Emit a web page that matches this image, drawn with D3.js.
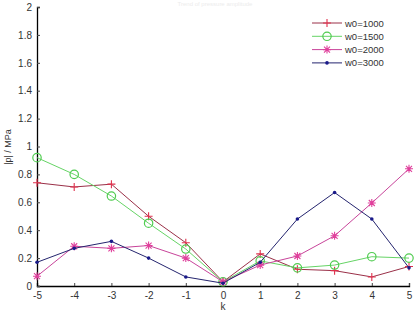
<!DOCTYPE html>
<html>
<head>
<meta charset="utf-8">
<script src="https://cdn.jsdelivr.net/npm/d3@7"></script>
<style>
body{margin:0;background:#fff;}
svg{display:block;}
text{font-family:"Liberation Sans",Arial,sans-serif;}
</style>
</head>
<body>
<div id="chart"></div>
<script>
var k = [-5,-4,-3,-2,-1,0,1,2,3,4,5];
var w1000 = [0.74,0.71,0.73,0.50,0.31,0.03,0.23,0.12,0.11,0.065,0.14];
var w1500 = [0.92,0.80,0.645,0.45,0.265,0.03,0.18,0.13,0.15,0.21,0.20];
var w2000 = [0.07,0.285,0.27,0.29,0.20,0.03,0.15,0.215,0.36,0.595,0.84];
var w3000 = [0.17,0.27,0.32,0.20,0.065,0.02,0.17,0.48,0.67,0.48,0.13];
var names = ["w0=1000","w0=1500","w0=2000","w0=3000"];
var yTicks = [0,0.2,0.4,0.6,0.8,1,1.2,1.4,1.6,1.8,2];

var series = [
 {name:names[0], vals:w1000, line:"#9a3048", mark:"#e0304c", sym:"plus"},
 {name:names[1], vals:w1500, line:"#66d466", mark:"#50cc50", sym:"circle"},
 {name:names[2], vals:w2000, line:"#c8449a", mark:"#e0409c", sym:"star"},
 {name:names[3], vals:w3000, line:"#24246e", mark:"#1a1a8a", sym:"dot"}
];

var svg = d3.select("#chart")
.append("svg")
.attr("width",414)
.attr("height",314)

var x = d3.scaleLinear().domain([-5,5]).range([37,409]);
var y = d3.scaleLinear().domain([0,2]).range([286,7]);

// faint title at the top
svg.append("text")
.attr("x",215).attr("y",6)
.attr("text-anchor","middle")
.style("font-size","6px")
.style("fill","#ececec")
.text("Trend of pressure amplitude");

var xAxis = svg.append("g")
.attr("transform","translate(0,286)")
.call(d3.axisBottom(x).tickValues(k).tickSize(-3).tickPadding(6).tickFormat(function(d){return String(d);}));
var yAxis = svg.append("g")
.attr("transform","translate(37,0)")
.call(d3.axisLeft(y).tickValues(yTicks).tickSize(-3).tickPadding(5).tickFormat(function(d){return String(d);}));

[xAxis,yAxis].forEach(function(a){
  a.select(".domain").attr("stroke","#000").attr("stroke-width",1.3);
  a.selectAll(".tick line").attr("stroke","#444");
  a.selectAll(".tick text").style("font-size","10px").style("fill","#333").style("font-family","Liberation Sans, Arial, sans-serif");
});

svg.append("text")
.attr("transform","translate(11,147) rotate(-90)")
.attr("text-anchor","middle")
.style("font-size","9px")
.style("fill","#333")
.text("|p| / MPa");

svg.append("text")
.attr("x",223).attr("y",310)
.attr("text-anchor","middle")
.style("font-size","10px")
.style("fill","#333")
.text("k");

var line = d3.line()
.x(function(d,i){return x(k[i]);})
.y(function(d){return y(d);});

function marker(g, s, cx, cy){
  if(s.sym=="plus"){
    g.append("path").attr("d","M"+(cx-4)+","+cy+"H"+(cx+4)+"M"+cx+","+(cy-4)+"V"+(cy+4))
    .attr("stroke",s.mark).attr("stroke-width",1.1).attr("fill","none");
  } else if(s.sym=="circle"){
    g.append("circle").attr("cx",cx).attr("cy",cy).attr("r",4.2)
    .attr("stroke",s.mark).attr("stroke-width",1.2).attr("fill","none");
  } else if(s.sym=="star"){
    g.append("path").attr("d","M"+(cx-4)+","+cy+"H"+(cx+4)+"M"+cx+","+(cy-4)+"V"+(cy+4)
      +"M"+(cx-3)+","+(cy-3)+"L"+(cx+3)+","+(cy+3)+"M"+(cx-3)+","+(cy+3)+"L"+(cx+3)+","+(cy-3))
    .attr("stroke",s.mark).attr("stroke-width",1.1).attr("fill","none");
  } else {
    g.append("circle").attr("cx",cx).attr("cy",cy).attr("r",1.8).attr("fill",s.mark);
  }
}

series.forEach(function(s){
  var g = svg.append("g");
  g.append("path").datum(s.vals)
  .attr("d",line)
  .attr("fill","none")
  .attr("stroke",s.line)
  .attr("stroke-width",1);
  s.vals.forEach(function(v,i){ marker(g, s, x(k[i]), y(v)); });
});

// legend
series.forEach(function(s,i){
  var ly = 23 + i*13.3;
  var g = svg.append("g");
  g.append("line").attr("x1",312).attr("x2",342).attr("y1",ly).attr("y2",ly)
  .attr("stroke",s.line).attr("stroke-width",1);
  marker(g, s, 327, ly);
  g.append("text").attr("x",345).attr("y",ly+3.5)
  .style("font-size","9.5px").style("fill","#333")
  .text(s.name);
});
</script>
</body>
</html>
